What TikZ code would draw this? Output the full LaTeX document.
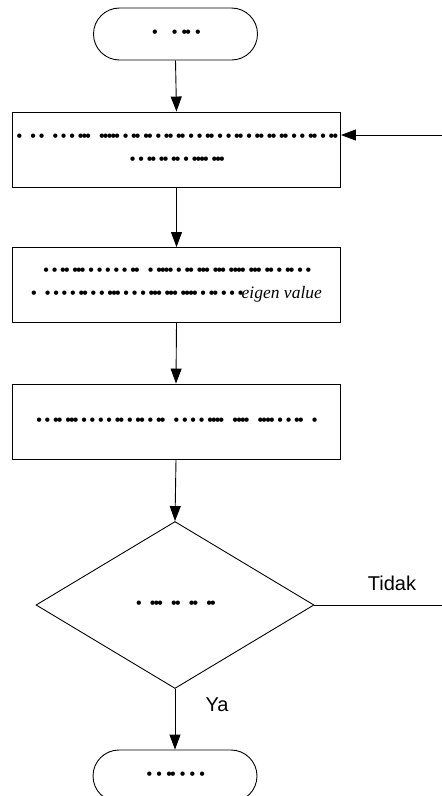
\documentclass[tikz,border=0pt]{standalone}
\usepackage{fontspec}
\setmainfont{Liberation Sans}
\newfontfamily\serifit{Liberation Serif}
\usetikzlibrary{shapes.geometric,arrows.meta}
\newcommand\dotglyph{\makebox[3.8pt][l]{\char"2022}}
\ExplSyntaxOn
\NewDocumentCommand\dotp{m}
  {
    \tl_map_inline:nn {#1}
      {
        \str_case:nn {##1}
          {
            {o}{\dotglyph}
            {-}{\hspace{4.6pt}}
            {m}{\hspace{6pt}}
            {G}{\hspace{10pt}}
          }
      }
  }
\ExplSyntaxOff
\begin{document}
\begin{tikzpicture}[x=1pt,y=-1pt, line width=0.9pt,
 dotfont/.style={font=\fontsize{16}{23}\selectfont},
 box/.style={draw, minimum width=328pt, minimum height=75pt, align=center, inner sep=0pt, dotfont},
 term/.style={draw, rounded corners=26pt, minimum width=164pt, minimum height=52pt, inner sep=0pt, dotfont},
 dec/.style={draw, diamond, minimum width=278pt, minimum height=167pt, inner sep=0pt, dotfont},
 arr/.style={-{Triangle[length=15pt,width=11pt]}},
 lbl/.style={font=\fontsize{20}{24}\selectfont, inner sep=0pt}]
\useasboundingbox (0,0) rectangle (442,796);
\node[term] (start) at (175.5,34) {\dotp{oGmomoomo}};
\node[box] (b1) at (176.5,149.5) {\dotp{oGo-oGo-o-o-oooGooooo-o-oo-oo-o-oo-oo-o-o-oo-o-o-oo-o-oo-oo-oo-o-o-oo-o-oo}\\\dotp{o-o-oo-oo-oo-o-oooo-ooo}};
\node[box] (b2) at (176.5,285) {\dotp{o-o-oo-ooo-o-o-o-o-o-ooGo-oooo-o-oo-ooo-ooo-oooo-ooo-oo-o-oo-o-o}\\\dotp{oGo-o-o-o-oo-o-o-ooo-o-o-o-ooo-ooo-oooo-o-oo-o-o-o}{\serifit\itshape\fontsize{17.5}{23}\selectfont eigen value}};
\node[box] (b3) at (176,421.5) {\dotp{o-o-oo-ooo-o-o-o-o-oo-o-oo-o-ooGo-o-o-o-ooooGooooGoooo-o-o-ooGo}};
\node[dec] (d) at (175,605) {\dotp{oGoooGooGooGoo}};
\node[term] (end) at (175,776) {\dotp{omomoomomomo}};
\coordinate (inR) at (442,135);
\coordinate (outR) at (442,605);
\draw[arr] (start.south) -- (b1.north);
\draw[arr] (inR) -- (inR -| b1.east);
\draw[arr] (b1.south) -- (b2.north);
\draw[arr] (b2.south) -- (b3.north);
\draw[arr] (b3.south) -- (d.north);
\draw (d.east) -- (outR);
\draw[arr] (d.south) -- (end.north);
\node[lbl] (tidak) at (392,583) {Tidak};
\node[lbl] (ya) at (217,705) {Ya};
\end{tikzpicture}
\end{document}
